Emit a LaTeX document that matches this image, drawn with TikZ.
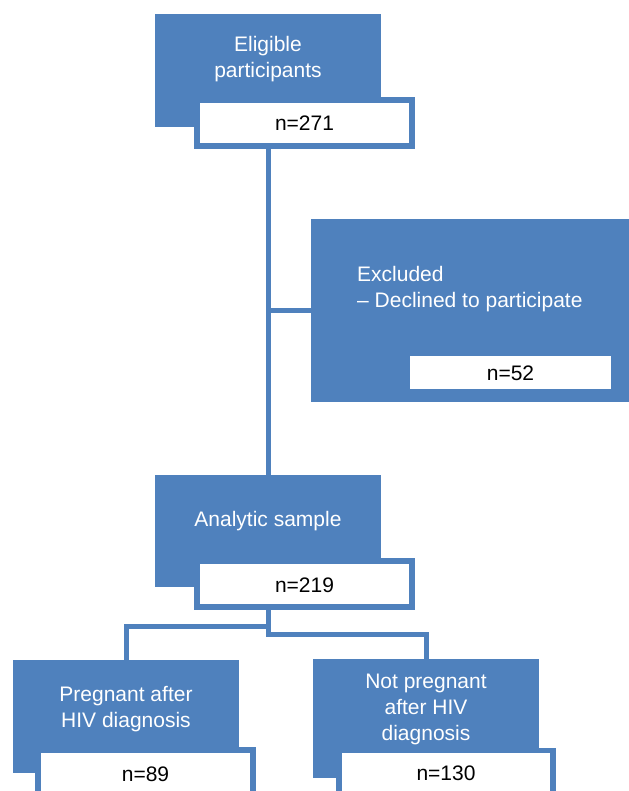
\documentclass[tikz,border=0pt]{standalone}
\usepackage{fontspec}
\setmainfont{Liberation Sans}
\usetikzlibrary{backgrounds}
\definecolor{obl}{RGB}{79,129,189}
\begin{document}
\begin{tikzpicture}[x=1bp,y=-1bp,
  bluebox/.style={fill=obl,draw=none,inner sep=0pt},
  nbox/.style={fill=white,draw=obl,line width=5.5bp,inner sep=0pt,minimum width=215bp,minimum height=46bp},
  conn/.style={draw=obl,line width=5bp},
  wtext/.style={text=white,inner sep=0pt,align=center,font=\fontsize{21bp}{26bp}\selectfont},
  ktext/.style={text=black,inner sep=0pt,font=\fontsize{21bp}{26bp}\selectfont}]
\useasboundingbox (0,0) rectangle (629,791);
\clip (0,0) rectangle (629,791);
% blue boxes
\node[bluebox,minimum width=226bp,minimum height=113bp] (elig) at (268,70.5) {};
\node[bluebox,minimum width=318bp,minimum height=183bp] (excl) at (470,310.5) {};
\node[bluebox,minimum width=226bp,minimum height=112bp] (anal) at (268,531) {};
\node[bluebox,minimum width=226bp,minimum height=113bp] (preg) at (126,716.5) {};
\node[bluebox,minimum width=226bp,minimum height=119bp] (notp) at (426,718.5) {};
% count boxes
\node[nbox] (n271) at (304.5,123) {};
\node[nbox] (n219) at (304.5,584) {};
\node[fill=white,draw=none,inner sep=0pt,minimum width=201bp,minimum height=33bp] (n52) at (510.5,372.5) {};
\node[nbox] (n89) at (145.5,773) {};
\node[nbox,minimum width=214bp] (n130) at (446,773.5) {};
% connectors (behind the boxes)
\begin{pgfonlayer}{background}
\draw[conn] (n271.south -| elig.south) -- (anal.north);
\draw[conn] (excl.west -| elig.south) -- (excl.west);
\draw[conn] (n219.south -| anal.south) -- ++(0,17) -| (preg.north);
\draw[conn] (n219.south -| anal.south) -- ++(0,25) -| (notp.north);
\end{pgfonlayer}
% texts
\node[wtext] (t1) at (268,59) {Eligible\\participants};
\node[ktext] (t2) at (304.5,123) {n=271};
\node[wtext,align=left,anchor=west] (t3) at (357,289.5) {Excluded\\– Declined to participate};
\node[ktext] (t4) at (510.5,373) {n=52};
\node[wtext] (t5) at (268,521) {Analytic sample};
\node[ktext] (t6) at (304.5,585) {n=219};
\node[wtext] (t7) at (126,709) {Pregnant after\\HIV diagnosis};
\node[wtext] (t8) at (426,709.5) {Not pregnant\\after HIV\\diagnosis};
\node[ktext] (t9) at (145.5,774) {n=89};
\node[ktext] (t10) at (446,773) {n=130};
\end{tikzpicture}
\end{document}
